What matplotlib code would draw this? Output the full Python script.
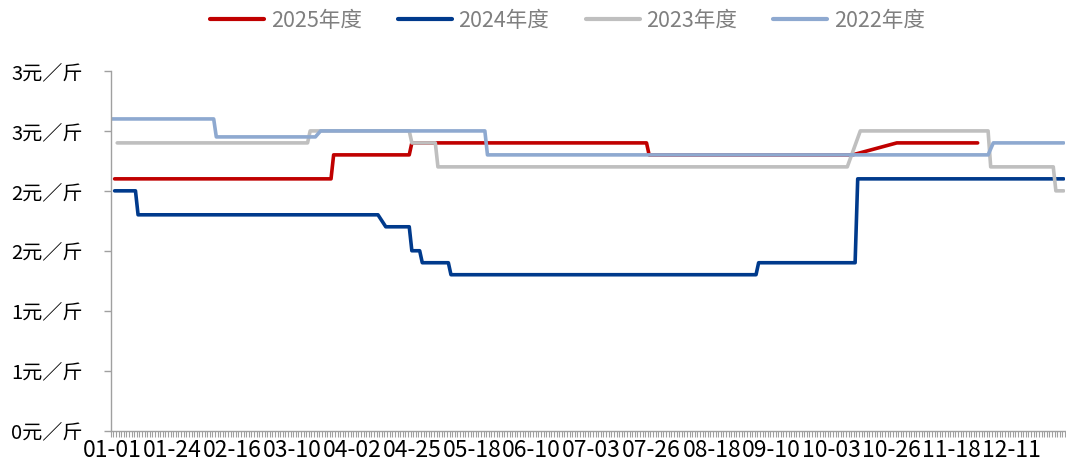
import matplotlib.pyplot as plt
import numpy as np
import pandas as pd

plt.rcParams['font.family'] = ['Noto Sans CJK SC', 'DejaVu Sans']

# ---- data (x axis is a daily category axis, MM-DD on a 366-day calendar) ----
x_tick_labels = ["01-01", "01-24", "02-16", "03-10", "04-02", "04-25", "05-18", "06-10",
                 "07-03", "07-26", "08-18", "09-10", "10-03", "10-26", "11-18", "12-11"]
y_ticks = [0, 0.5, 1.0, 1.5, 2.0, 2.5, 3.0]
y_tick_labels = ["0元／斤", "1元／斤", "1元／斤", "2元／斤", "2元／斤", "3元／斤", "3元／斤"]

# price change points for each season (元/斤)
dates_2025 = ["01-02", "03-25", "03-26", "04-24", "04-25", "07-24", "07-25", "10-11", "10-28", "11-28"]
price_2025 = [2.1, 2.1, 2.3, 2.3, 2.4, 2.4, 2.3, 2.3, 2.4, 2.4]

dates_2024 = ["01-02", "01-10", "01-11", "04-12", "04-15", "04-24", "04-25", "04-28",
              "04-29", "05-09", "05-10", "09-04", "09-05", "10-12", "10-13", "12-31"]
price_2024 = [2.0, 2.0, 1.8, 1.8, 1.7, 1.7, 1.5, 1.5, 1.4, 1.4, 1.3, 1.3, 1.4, 1.4, 2.1, 2.1]

dates_2023 = ["01-03", "03-16", "03-17", "04-24", "04-25", "05-04", "05-05", "10-09",
              "10-14", "12-02", "12-03", "12-27", "12-28", "12-31"]
price_2023 = [2.4, 2.4, 2.5, 2.5, 2.4, 2.4, 2.2, 2.2, 2.5, 2.5, 2.2, 2.2, 2.0, 2.0]

dates_2022 = ["01-01", "02-09", "02-10", "03-19", "03-21", "05-23", "05-24", "12-02", "12-04", "12-31"]
price_2022 = [2.6, 2.6, 2.45, 2.45, 2.5, 2.5, 2.3, 2.3, 2.4, 2.4]

series = [
    ("2025年度", dates_2025, price_2025, "#C00000"),
    ("2024年度", dates_2024, price_2024, "#003A8C"),
    ("2023年度", dates_2023, price_2023, "#BFBFBF"),
    ("2022年度", dates_2022, price_2022, "#8EA9D0"),
]


def day_index(dates):
    return (pd.to_datetime(["2024-" + d for d in dates]).dayofyear - 1).to_numpy()


# ----------------------------------------------------------------------
W, H = 1066, 466
fig = plt.figure(figsize=(W / 100, H / 100), dpi=100)
ax = fig.add_axes([110.7 / W, (H - 430.5) / H, (1065 - 110.7) / W, (430.5 - 71) / H])

for name, dates, prices, color in series:
    ax.plot(day_index(dates), prices, color=color, lw=2.6, label=name,
            solid_capstyle="round", solid_joinstyle="round")

axis_grey = "#A0A0A0"
ax.set_xlim(-0.5, 365.5)
ax.set_ylim(0, 3)
ax.set_xticks(day_index(x_tick_labels))
ax.set_xticklabels(x_tick_labels, fontsize=16.5)
ax.set_xticks(np.arange(-0.5, 366, 1), minor=True)
ax.tick_params(axis="x", which="major", length=0, pad=6)
ax.tick_params(axis="x", which="minor", length=4.5, width=0.8, color=axis_grey)
ax.set_yticks(y_ticks)
ax.set_yticklabels(y_tick_labels, fontsize=14.5)
ax.tick_params(axis="y", length=5, width=1, color=axis_grey, pad=15)

for side in ("top", "right"):
    ax.spines[side].set_visible(False)
for side in ("left", "bottom"):
    ax.spines[side].set_color(axis_grey)
    ax.spines[side].set_linewidth(1.0)

leg = fig.legend(loc="center", bbox_to_anchor=(567.5 / W, 1 - 21 / H), ncol=4, frameon=False,
                 fontsize=15.5, handlelength=2.5, handletextpad=0.3, columnspacing=1.7)
for txt in leg.get_texts():
    txt.set_color("#7F7F7F")
for line in leg.get_lines():
    line.set_linewidth(3)

fig.savefig("out.png", dpi=100)
